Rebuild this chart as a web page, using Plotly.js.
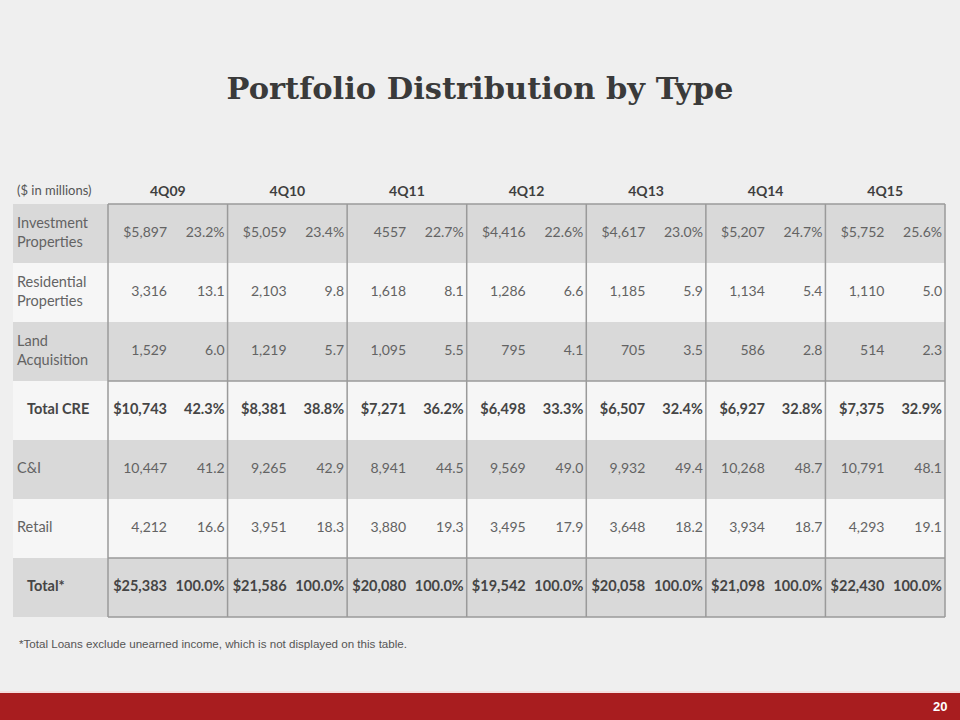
<!DOCTYPE html>
<html>
<head>
<meta charset="utf-8">
<script src="https://cdn.plot.ly/plotly-3.0.1.min.js"></script>
<style>html,body{margin:0;padding:0;background:#efefef;}#chart{width:960px;height:720px;}</style>
</head>
<body>
<div id="chart"></div>
<script>
// ---- data ----
const periods = ['4Q09','4Q10','4Q11','4Q12','4Q13','4Q14','4Q15'];
const rowLabels = ['Investment<br>Properties','Residential<br>Properties','Land<br>Acquisition','Total CRE','C&I','Retail','Total*'];
const boldRows = [false,false,false,true,false,false,true];
const invAmt  = ['$5,897','$5,059','4557','$4,416','$4,617','$5,207','$5,752'];
const invPct  = ['23.2%','23.4%','22.7%','22.6%','23.0%','24.7%','25.6%'];
const resAmt  = ['3,316','2,103','1,618','1,286','1,185','1,134','1,110'];
const resPct  = ['13.1','9.8','8.1','6.6','5.9','5.4','5.0'];
const landAmt = ['1,529','1,219','1,095','795','705','586','514'];
const landPct = ['6.0','5.7','5.5','4.1','3.5','2.8','2.3'];
const creAmt  = ['$10,743','$8,381','$7,271','$6,498','$6,507','$6,927','$7,375'];
const crePct  = ['42.3%','38.8%','36.2%','33.3%','32.4%','32.8%','32.9%'];
const ciAmt   = ['10,447','9,265','8,941','9,569','9,932','10,268','10,791'];
const ciPct   = ['41.2','42.9','44.5','49.0','49.4','48.7','48.1'];
const retAmt  = ['4,212','3,951','3,880','3,495','3,648','3,934','4,293'];
const retPct  = ['16.6','18.3','19.3','17.9','18.2','18.7','19.1'];
const totAmt  = ['$25,383','$21,586','$20,080','$19,542','$20,058','$21,098','$22,430'];
const totPct  = ['100.0%','100.0%','100.0%','100.0%','100.0%','100.0%','100.0%'];
const unitsNote = '($ in millions)';
const titleText = 'Portfolio Distribution by Type';
const footnote = '*Total Loans exclude unearned income, which is not displayed on this table.';
const pageNo = '20';

// ---- layout geometry ----
const W = 960, H = 720;
const tableLeft = 13, tableRight = 945, labelRight = 108;
const bodyTop = 204, rowH = 59, headerY = 192;
const grpW = (tableRight - labelRight) / periods.length;
const amtRows = [invAmt,resAmt,landAmt,creAmt,ciAmt,retAmt,totAmt];
const pctRows = [invPct,resPct,landPct,crePct,ciPct,retPct,totPct];
const nRows = rowLabels.length;
const rowCenter = r => bodyTop + (r + 0.5) * rowH;
const grpStart = k => labelRight + k * grpW;

const dataFont = 'Lato, "Open Sans", sans-serif';
const regColor = '#636363', boldColor = '#454545';

function textTrace(xs, ys, txt, pos, font) {
  return {type:'scatter', mode:'text', x:xs, y:ys, text:txt, textposition:pos,
          textfont:font, hoverinfo:'skip', showlegend:false, cliponaxis:false};
}

const traces = [];
[false, true].forEach(bold => {
  const ax=[], ay=[], at=[], px=[], py=[], pt=[];
  for (let r = 0; r < nRows; r++) {
    if (boldRows[r] !== bold) continue;
    for (let k = 0; k < periods.length; k++) {
      ax.push(grpStart(k) + 59); ay.push(rowCenter(r)); at.push(bold ? '<b>'+amtRows[r][k]+'</b>' : amtRows[r][k]);
      px.push(grpStart(k + 1) - 3); py.push(rowCenter(r)); pt.push(bold ? '<b>'+pctRows[r][k]+'</b>' : pctRows[r][k]);
    }
  }
  const f = {family:dataFont, size: bold ? 14.5 : 14, color: bold ? boldColor : regColor};
  traces.push(textTrace(ax, ay, at, 'middle left', f));
  traces.push(textTrace(px, py, pt, 'middle left', f));
});

// row labels
const lx=[], ly=[], lt=[], bx=[], by=[], bt=[];
for (let r = 0; r < nRows; r++) {
  if (boldRows[r]) { bx.push(tableLeft + 14); by.push(rowCenter(r)); bt.push('<b>'+rowLabels[r]+'</b>'); }
  else { lx.push(tableLeft + 4); ly.push(rowCenter(r)); lt.push(rowLabels[r]); }
}
traces.push(textTrace(lx, ly, lt, 'middle right', {family:dataFont, size:14.5, color:regColor}));
traces.push(textTrace(bx, by, bt, 'middle right', {family:dataFont, size:14.5, color:boldColor}));
// headers
traces.push(textTrace(periods.map((p,k)=>grpStart(k)+grpW/2), periods.map(()=>headerY),
  periods.map(p=>'<b>'+p+'</b>'), 'middle center', {family:dataFont, size:14, color:'#3f3f3f'}));
traces.push(textTrace([tableLeft + 4], [headerY], [unitsNote], 'middle right', {family:dataFont, size:13, color:'#555555'}));

// shapes
const shapes = [];
for (let r = 0; r < nRows; r++) {
  shapes.push({type:'rect', xref:'x', yref:'y', x0:tableLeft, x1:tableRight,
    y0:bodyTop + r*rowH, y1:bodyTop + (r+1)*rowH, line:{width:0},
    fillcolor: r % 2 === 0 ? '#d9d9d9' : '#f6f6f6', layer:'below'});
}
for (let k = 0; k <= periods.length; k++) {
  shapes.push({type:'line', xref:'x', yref:'y', x0:grpStart(k), x1:grpStart(k),
    y0:bodyTop, y1:bodyTop + nRows*rowH, line:{color:'#9a9a9a', width:1.5}});
}
[0, 3, 6, 7].forEach(r => {
  shapes.push({type:'line', xref:'x', yref:'y', x0:labelRight, x1:tableRight,
    y0:bodyTop + r*rowH, y1:bodyTop + r*rowH, line:{color:'#9a9a9a', width:1.5}});
});
// footer band
shapes.push({type:'rect', xref:'paper', yref:'y', x0:0, x1:1, y0:691, y1:693, line:{width:0}, fillcolor:'#f4dede'});
shapes.push({type:'rect', xref:'paper', yref:'y', x0:0, x1:1, y0:693, y1:H, line:{width:0}, fillcolor:'#a81d1f'});

const layout = {
  width:W, height:H, autosize:false,
  margin:{l:0, r:0, t:0, b:0, pad:0},
  paper_bgcolor:'#efefef', plot_bgcolor:'rgba(0,0,0,0)',
  title:{text:'<b>'+titleText+'</b>', x:0.5, xanchor:'center', y:1 - 88/H, yanchor:'middle',
         font:{family:'"DejaVu Serif", serif', size:30.5, color:'#3a3a3a'}},
  xaxis:{range:[0, W], visible:false, fixedrange:true},
  yaxis:{range:[H, 0], visible:false, fixedrange:true},
  shapes:shapes,
  annotations:[
    {xref:'x', yref:'y', x:tableLeft + 4, y:643, text:footnote, showarrow:false, xanchor:'left', yanchor:'middle',
     font:{family:'"Liberation Sans", Arial, sans-serif', size:11.6, color:'#555555'}},
    {xref:'x', yref:'y', x:949, y:706, text:'<b>'+pageNo+'</b>', showarrow:false, xanchor:'right', yanchor:'middle',
     font:{family:'"Liberation Sans", Arial, sans-serif', size:13, color:'#ffffff'}}
  ]
};

Plotly.newPlot('chart', traces, layout, {displayModeBar:false, staticPlot:true});
</script>
</body>
</html>
